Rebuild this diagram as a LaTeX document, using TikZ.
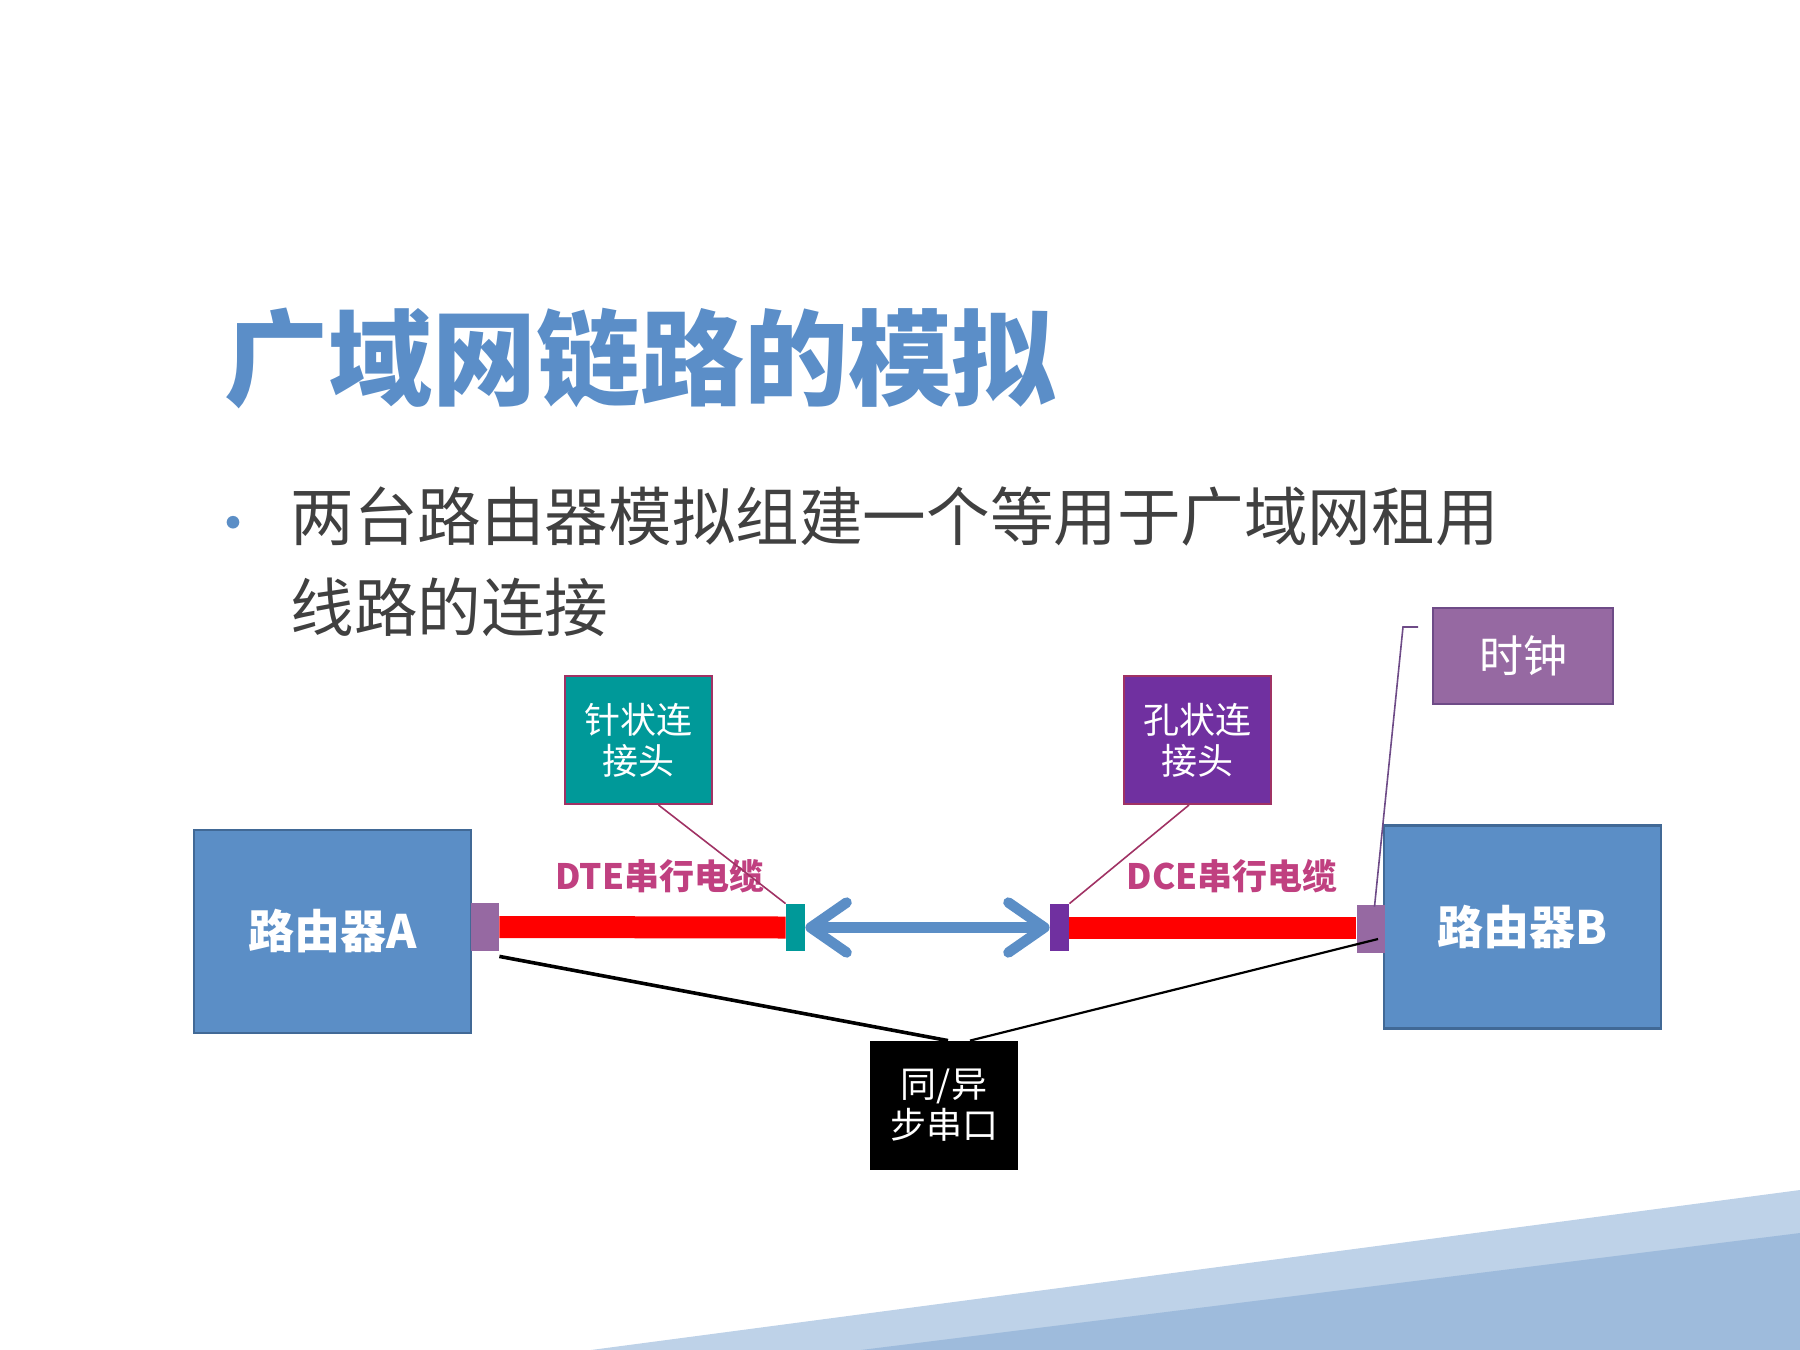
\documentclass[tikz,border=0pt]{standalone}
\usepackage{fontspec}
\setmainfont{Noto Sans CJK SC}
\usetikzlibrary{arrows.meta}
\definecolor{titleblue}{RGB}{91,142,200}
\definecolor{routerblue}{RGB}{91,142,198}
\definecolor{routerborder}{RGB}{65,105,150}
\definecolor{portpurple}{RGB}{150,105,162}
\definecolor{tealc}{RGB}{0,153,153}
\definecolor{dcepurple}{RGB}{112,48,160}
\definecolor{calloutborder}{RGB}{160,50,100}
\definecolor{clockborder}{RGB}{110,75,135}
\definecolor{labelmag}{RGB}{192,64,128}
\definecolor{bodygray}{RGB}{64,64,64}
\definecolor{bandlight}{RGB}{190,210,232}
\definecolor{banddark}{RGB}{158,187,220}
\tikzset{
  router/.style={draw=routerborder, line width=1.2pt, fill=routerblue, text=white, inner sep=0pt,
    minimum width=138.5pt, minimum height=101.5pt, font=\fontsize{23}{26}\selectfont\bfseries},
  port/.style={fill=portpurple, inner sep=0pt, minimum width=14pt, minimum height=24pt},
  conn/.style={inner sep=0pt, minimum width=9.5pt, minimum height=23.5pt},
  callout/.style={draw=calloutborder, line width=1pt, text=white, inner sep=0pt, align=center,
    minimum width=73.5pt, minimum height=64pt, font=\fontsize{18}{20.5}\selectfont},
  cablelabel/.style={text=labelmag, inner sep=0pt, font=\fontsize{17.5}{20}\selectfont\bfseries},
  leader/.style={draw=calloutborder, line width=0.8pt},
  redcable/.style={draw=red, line width=11pt},
  blackwire/.style={draw=black, line width=1.3pt}
}
\begin{document}
\begin{tikzpicture}[x=0.5pt, y=-0.5pt]
\useasboundingbox (0,0) rectangle (1800,1350);
% background bands
\fill[bandlight] (591,1350) -- (1800,1190) -- (1800,1350) -- cycle;
\fill[banddark] (861,1350) -- (1800,1233) -- (1800,1350) -- cycle;
% title
\node[text=titleblue, inner sep=0pt, font=\fontsize{52}{60}\selectfont\bfseries] (title) at (640,358) {广域网链路的模拟};
% bullet
\node[text=routerblue, inner sep=0pt, font=\fontsize{30}{34}\selectfont] (bullet) at (233,531) {•};
\node[text=bodygray, inner sep=0pt, anchor=west, align=left, font=\fontsize{31.8}{45.5}\selectfont] (body) at (290,562) {两台路由器模拟组建一个等用于广域网租用\\线路的连接};
% routers
\node[router] (ra) at (332.5,931.5) {路由器A};
\node[router] (rb) at (1522.5,927) {路由器B};
% ports and connectors
\node[port] (pa) at (485,927) {};
\node[port] (pb) at (1370.5,929) {};
\node[conn, fill=tealc] (ct) at (795.5,927.5) {};
\node[conn, fill=dcepurple] (cp) at (1059.5,927.5) {};
% cables
\draw[redcable] (pa.east) -- (ct.west);
\draw[redcable] (cp.east) -- (cp.east -| pb.west);
% double arrow
\draw[draw=routerblue, line width=5.2pt, line cap=round,
  {Straight Barb[length=18pt, width=25pt, line cap=round, line join=round]}-{Straight Barb[length=18pt, width=25pt, line cap=round, line join=round]}]
  (ct.east) -- (cp.west);
% callouts
\node[callout, fill=tealc] (zhen) at (638.5,740) {针状连\\接头};
\node[callout, fill=dcepurple] (kong) at (1197,740) {孔状连\\接头};
\node[draw=clockborder, line width=1pt, fill=portpurple, text=white, inner sep=0pt,
  minimum width=90pt, minimum height=48pt, font=\fontsize{22}{26}\selectfont] (clock) at (1523,656) {时钟};
\node[fill=black, text=white, inner sep=0pt, align=center, minimum width=74pt, minimum height=64.5pt,
  font=\fontsize{18}{20.5}\selectfont] (serial) at (944,1105.5) {同/异\\步串口};
% cable labels
\node[cablelabel] (dte) at (660,876) {DTE串行电缆};
\node[cablelabel] (dce) at (1232,876) {DCE串行电缆};
% leaders
\draw[leader] ([xshift=10pt]zhen.south) -- (ct.north west);
\draw[leader] ([xshift=-4pt]kong.south) -- (cp.north east);
\coordinate (clk1) at (1418,627);
\draw[draw=clockborder, line width=0.8pt] (clk1) -- (1403,627) -- ([xshift=2pt,yshift=-1pt]pb.north);
% black wires
\draw[blackwire, line width=1.8pt] ([yshift=-2.5pt]pa.south east) -- ([xshift=2pt]serial.north);
\coordinate (pbwire) at (1378,939);
\draw[blackwire, line width=1.1pt] ([xshift=13pt]serial.north) -- (pbwire);
\end{tikzpicture}
\end{document}
